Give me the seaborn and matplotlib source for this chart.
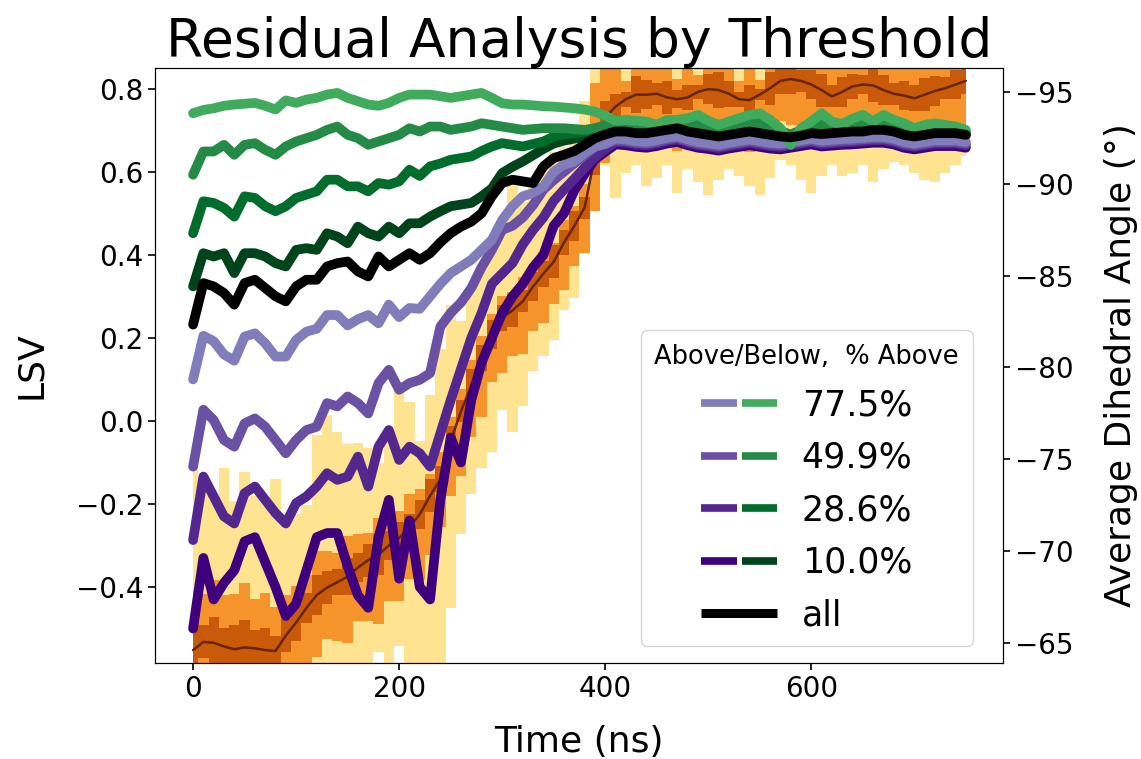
import matplotlib
matplotlib.use("Agg")
import matplotlib.pyplot as plt
import seaborn as sns
from matplotlib.lines import Line2D
from matplotlib.legend_handler import HandlerTuple

# ---------------- data ----------------
time_ns = list(range(0, 751, 10))

# LSV traces: "above" threshold (purple) and "below" threshold (green)
above_775 = [0.100, 0.205, 0.192, 0.160, 0.145, 0.203, 0.211, 0.187, 0.155, 0.155,
             0.195, 0.215, 0.222, 0.255, 0.255, 0.230, 0.245, 0.255, 0.235, 0.280,
             0.250, 0.272, 0.270, 0.300, 0.330, 0.356, 0.372, 0.388, 0.412, 0.436,
             0.484, 0.517, 0.541, 0.549, 0.565, 0.600, 0.617, 0.625, 0.645, 0.661,
             0.667, 0.680, 0.678, 0.674, 0.672, 0.676, 0.682, 0.686, 0.678, 0.672,
             0.669, 0.665, 0.670, 0.674, 0.678, 0.674, 0.670, 0.668, 0.672, 0.676,
             0.680, 0.675, 0.677, 0.679, 0.680, 0.682, 0.684, 0.684, 0.680, 0.672,
             0.668, 0.672, 0.676, 0.676, 0.676, 0.672]
above_499 = [-0.110, 0.027, 0.002, -0.046, -0.062, -0.006, 0.006, -0.014, -0.046, -0.078,
             -0.046, -0.022, -0.014, 0.043, 0.035, 0.059, 0.043, 0.018, 0.091, 0.123,
             0.075, 0.091, 0.099, 0.115, 0.227, 0.260, 0.285, 0.320, 0.370, 0.412,
             0.460, 0.470, 0.490, 0.520, 0.557, 0.580, 0.600, 0.620, 0.640, 0.660,
             0.668, 0.676, 0.674, 0.670, 0.668, 0.672, 0.678, 0.682, 0.674, 0.668,
             0.665, 0.661, 0.666, 0.670, 0.674, 0.670, 0.666, 0.664, 0.668, 0.672,
             0.676, 0.671, 0.673, 0.675, 0.676, 0.678, 0.680, 0.680, 0.676, 0.668,
             0.664, 0.668, 0.672, 0.672, 0.672, 0.668]
above_286 = [-0.287, -0.134, -0.182, -0.230, -0.247, -0.174, -0.158, -0.190, -0.222, -0.247,
             -0.198, -0.182, -0.158, -0.126, -0.142, -0.134, -0.086, -0.158, -0.062, -0.022,
             -0.094, -0.062, -0.078, -0.110, -0.030, 0.050, 0.125, 0.200, 0.260, 0.330,
             0.355, 0.380, 0.425, 0.460, 0.490, 0.530, 0.557, 0.583, 0.610, 0.635,
             0.655, 0.672, 0.670, 0.666, 0.664, 0.668, 0.674, 0.678, 0.670, 0.664,
             0.661, 0.657, 0.662, 0.666, 0.670, 0.666, 0.662, 0.660, 0.664, 0.668,
             0.672, 0.667, 0.669, 0.671, 0.672, 0.674, 0.676, 0.676, 0.672, 0.664,
             0.660, 0.664, 0.668, 0.668, 0.668, 0.664]
above_100 = [-0.500, -0.330, -0.430, -0.390, -0.360, -0.290, -0.280, -0.340, -0.400, -0.470,
             -0.440, -0.360, -0.280, -0.270, -0.270, -0.350, -0.420, -0.450, -0.280, -0.190,
             -0.380, -0.240, -0.400, -0.430, -0.190, -0.040, -0.100, 0.050, 0.140, 0.200,
             0.260, 0.300, 0.330, 0.370, 0.400, 0.470, 0.500, 0.555, 0.595, 0.630,
             0.648, 0.666, 0.664, 0.660, 0.658, 0.662, 0.668, 0.672, 0.664, 0.658,
             0.655, 0.651, 0.656, 0.660, 0.664, 0.660, 0.656, 0.654, 0.658, 0.662,
             0.666, 0.661, 0.663, 0.665, 0.666, 0.668, 0.670, 0.670, 0.666, 0.658,
             0.654, 0.658, 0.662, 0.662, 0.662, 0.658]

below_775 = [0.741, 0.749, 0.753, 0.759, 0.762, 0.764, 0.766, 0.759, 0.750, 0.772,
             0.766, 0.774, 0.778, 0.786, 0.790, 0.778, 0.770, 0.762, 0.759, 0.766,
             0.778, 0.786, 0.786, 0.786, 0.782, 0.778, 0.782, 0.786, 0.790, 0.778,
             0.765, 0.762, 0.762, 0.760, 0.758, 0.757, 0.755, 0.753, 0.750, 0.745,
             0.735, 0.723, 0.725, 0.723, 0.721, 0.713, 0.725, 0.725, 0.729, 0.737,
             0.723, 0.713, 0.721, 0.729, 0.737, 0.741, 0.725, 0.705, 0.665, 0.705,
             0.721, 0.741, 0.721, 0.715, 0.728, 0.737, 0.721, 0.737, 0.725, 0.717,
             0.705, 0.713, 0.717, 0.713, 0.709, 0.701]
below_499 = [0.593, 0.649, 0.649, 0.665, 0.641, 0.665, 0.669, 0.653, 0.641, 0.661,
             0.673, 0.681, 0.689, 0.701, 0.709, 0.689, 0.681, 0.665, 0.673, 0.681,
             0.689, 0.705, 0.697, 0.709, 0.709, 0.701, 0.705, 0.709, 0.717, 0.713,
             0.709, 0.705, 0.701, 0.703, 0.705, 0.705, 0.705, 0.703, 0.701, 0.705,
             0.712, 0.705, 0.708, 0.706, 0.703, 0.698, 0.707, 0.710, 0.712, 0.715,
             0.706, 0.700, 0.705, 0.710, 0.716, 0.718, 0.708, 0.698, 0.690, 0.700,
             0.708, 0.716, 0.706, 0.702, 0.709, 0.714, 0.706, 0.714, 0.708, 0.703,
             0.698, 0.702, 0.705, 0.702, 0.700, 0.697]
below_286 = [0.452, 0.529, 0.525, 0.513, 0.492, 0.541, 0.537, 0.517, 0.505, 0.517,
             0.537, 0.545, 0.553, 0.581, 0.581, 0.565, 0.565, 0.553, 0.573, 0.569,
             0.577, 0.605, 0.590, 0.613, 0.620, 0.629, 0.633, 0.637, 0.650, 0.661,
             0.669, 0.665, 0.661, 0.667, 0.673, 0.685, 0.690, 0.693, 0.697, 0.700,
             0.702, 0.698, 0.700, 0.699, 0.697, 0.693, 0.700, 0.703, 0.705, 0.707,
             0.700, 0.695, 0.699, 0.703, 0.708, 0.710, 0.702, 0.694, 0.688, 0.695,
             0.701, 0.707, 0.700, 0.697, 0.702, 0.706, 0.700, 0.706, 0.702, 0.698,
             0.694, 0.697, 0.699, 0.697, 0.695, 0.693]
below_100 = [0.324, 0.404, 0.396, 0.404, 0.356, 0.404, 0.404, 0.396, 0.380, 0.372,
             0.412, 0.416, 0.412, 0.452, 0.444, 0.428, 0.468, 0.452, 0.444, 0.468,
             0.452, 0.476, 0.476, 0.492, 0.505, 0.517, 0.521, 0.525, 0.541, 0.560,
             0.597, 0.612, 0.625, 0.640, 0.655, 0.668, 0.675, 0.680, 0.684, 0.688,
             0.694, 0.692, 0.694, 0.693, 0.691, 0.688, 0.694, 0.697, 0.699, 0.700,
             0.694, 0.690, 0.693, 0.697, 0.701, 0.703, 0.696, 0.689, 0.684, 0.690,
             0.695, 0.700, 0.694, 0.691, 0.696, 0.699, 0.694, 0.699, 0.696, 0.692,
             0.689, 0.691, 0.693, 0.691, 0.690, 0.688]

all_lsv = [0.232, 0.332, 0.324, 0.308, 0.280, 0.332, 0.340, 0.320, 0.300, 0.288,
           0.324, 0.340, 0.340, 0.372, 0.380, 0.384, 0.360, 0.348, 0.396, 0.372,
           0.388, 0.404, 0.388, 0.404, 0.430, 0.452, 0.468, 0.480, 0.500, 0.541,
           0.573, 0.581, 0.577, 0.573, 0.613, 0.633, 0.641, 0.650, 0.665, 0.681,
           0.690, 0.697, 0.697, 0.693, 0.693, 0.697, 0.701, 0.705, 0.697, 0.693,
           0.689, 0.685, 0.689, 0.693, 0.697, 0.693, 0.689, 0.685, 0.683, 0.687,
           0.693, 0.691, 0.693, 0.695, 0.697, 0.697, 0.701, 0.701, 0.697, 0.689,
           0.685, 0.689, 0.693, 0.693, 0.693, 0.689]

# dihedral angle distribution (right axis, degrees)
angle_median = [-64.6, -65.05, -65.0, -64.8, -64.65, -64.75, -64.7, -64.6, -64.55, -65.4,
                -66.1, -66.9, -67.6, -68.0, -68.3, -68.6, -69.1, -69.5, -69.8, -70.3,
                -70.7, -71.3, -72.0, -73.0, -73.9, -76.0, -77.6, -79.0, -80.5, -81.8,
                -82.7, -83.1, -83.6, -84.4, -85.1, -85.75, -86.8, -87.7, -88.7, -91.5,
                -93.6, -94.2, -94.6, -94.85, -94.85, -94.9, -94.7, -94.6, -94.7, -95.0,
                -95.15, -95.1, -94.9, -94.6, -94.55, -94.85, -95.2, -95.6, -95.7, -95.6,
                -95.4, -95.1, -94.75, -95.0, -95.3, -95.4, -95.35, -95.1, -94.9, -94.8,
                -94.65, -94.85, -95.05, -95.2, -95.4, -95.6]
outer_top = [-74.5, -73.4, -72.8, -74.5, -72.7, -74.3, -73.0, -72.6, -73.9, -71.8,
             -72.0, -72.5, -76.3, -77.4, -76.5, -75.8, -75.9, -75.6, -74.8, -76.5,
             -79.0, -78.1, -76.0, -78.5, -81.0, -83.4, -82.5, -84.0, -85.5, -86.8,
             -88.0, -89.9, -89.0, -90.0, -91.0, -91.7, -92.0, -93.0, -94.5, -99.0,
             -99.0, -99.0, -99.0, -99.0, -99.0, -99.0, -99.0, -99.0, -99.0, -99.0,
             -99.0, -99.0, -99.0, -99.0, -99.0, -99.0, -99.0, -99.0, -99.0, -99.0,
             -99.0, -99.0, -99.0, -99.0, -99.0, -99.0, -99.0, -99.0, -99.0, -99.0,
             -99.0, -99.0, -99.0, -99.0, -99.0, -99.0]
outer_bottom = [-62.0, -62.0, -62.0, -62.0, -62.0, -62.0, -62.0, -62.0, -62.0, -62.0,
                -62.0, -62.0, -62.0, -62.0, -62.0, -62.0, -62.0, -62.0, -64.5, -62.0,
                -64.8, -62.0, -62.0, -62.0, -62.0, -66.9, -70.9, -73.1, -74.5, -75.4,
                -77.7, -76.5, -77.9, -79.8, -80.6, -81.5, -83.1, -83.8, -87.4, -89.5,
                -91.0, -89.2, -90.6, -91.0, -89.9, -90.3, -91.0, -89.5, -90.8, -90.1,
                -89.4, -90.2, -90.8, -90.4, -89.9, -89.4, -90.3, -91.3, -91.0, -90.2,
                -89.5, -90.4, -91.0, -90.4, -90.6, -91.0, -90.1, -90.8, -91.2, -91.0,
                -90.6, -90.2, -90.1, -90.6, -91.0, -91.5]
mid_up = [3.2, 2.6, 3.4, 2.8, 3.0, 3.5, 2.7, 3.1, 2.4, 2.2,
          2.0, 1.8, 2.4, 2.0, 1.6, 2.2, 1.8, 1.5, 2.0, 1.7,
          1.5, 1.8, 1.4, 1.2, 1.5, 1.3, 1.2, 1.4, 1.2, 1.1,
          1.2, 1.0, 1.3, 1.1, 1.2, 1.0, 1.2, 1.1, 1.3, 4.0,
          4.0, 4.0, 1.0, 4.0, 4.0, 4.0, 4.0, 1.1, 4.0, 0.9,
          4.0, 4.0, 4.0, 1.0, 4.0, 0.8, 4.0, 4.0, 4.0, 4.0,
          4.0, 4.0, 4.0, 4.0, 4.0, 1.0, 4.0, 4.0, 4.0, 4.0,
          4.0, 4.0, 4.0, 4.0, 4.0, 4.0]
mid_down = [2.0, 2.5, 2.2, 2.4, 2.0, 2.6, 2.2, 2.0, 2.4, 2.8,
            2.6, 3.0, 3.4, 2.8, 3.2, 3.6, 2.9, 3.3, 3.8, 3.0,
            3.4, 2.8, 3.6, 3.2, 2.6, 3.0, 3.5, 2.8, 3.2, 2.6,
            3.0, 2.5, 2.9, 2.4, 2.7, 2.3, 2.6, 2.2, 2.5, 3.0,
            2.5, 2.3, 2.7, 2.4, 2.6, 2.2, 2.5, 2.8, 2.3, 2.6,
            2.4, 2.7, 2.3, 2.5, 2.8, 2.4, 2.6, 2.2, 2.5, 2.7,
            2.3, 2.6, 2.4, 2.8, 2.5, 2.3, 2.6, 2.4, 2.7, 2.5,
            2.3, 2.6, 2.4, 2.5, 2.7, 2.4]
inner_half = [1.2, 0.9, 1.4, 1.0, 1.3, 1.5, 1.0, 1.2, 0.8, 0.9,
              1.0, 0.8, 1.1, 0.9, 0.7, 1.0, 0.8, 0.9, 1.1, 0.8,
              0.9, 0.7, 0.8, 0.9, 0.7, 0.8, 0.6, 0.9, 0.7, 0.8,
              0.7, 0.9, 0.6, 0.8, 0.7, 0.9, 0.7, 0.8, 0.6, 1.0,
              0.9, 0.7, 0.4, 1.0, 0.8, 0.6, 0.9, 0.5, 0.7, 0.4,
              0.8, 1.0, 0.7, 0.4, 0.8, 0.3, 0.9, 0.7, 0.8, 0.6,
              0.8, 0.9, 0.6, 0.8, 0.7, 0.5, 0.9, 0.8, 0.6, 0.8,
              0.7, 0.9, 0.8, 0.6, 0.8, 0.7]

legend_labels = ["77.5%", "49.9%", "28.6%", "10.0%", "all"]
purples = ["#807dba", "#6a51a3", "#54278f", "#3f007d"]
greens = ["#41ab5d", "#238b45", "#006d2c", "#00441b"]

# ---------------- style ----------------
sns.set_style("ticks", rc={
    "axes.edgecolor": "black", "axes.labelcolor": "black", "text.color": "black",
    "xtick.color": "black", "ytick.color": "black", "axes.linewidth": 1.4,
    "xtick.direction": "out", "ytick.direction": "out",
})
plt.rcParams["font.family"] = ["DejaVu Sans"]

fig = plt.figure(figsize=(11.41, 7.59), dpi=100)
ax = fig.add_axes([0.1358, 0.1265, 0.879 - 0.1358, 0.9104 - 0.1265])
ax2 = ax.twinx()

# ---------------- dihedral fan (right axis) ----------------
mid_top = [m - u for m, u in zip(angle_median, mid_up)]
mid_bot = [m + d for m, d in zip(angle_median, mid_down)]
in_top = [m - h for m, h in zip(angle_median, inner_half)]
in_bot = [m + h for m, h in zip(angle_median, inner_half)]
ax2.fill_between(time_ns, outer_bottom, outer_top, step="mid", color="#fee391", lw=0)
ax2.fill_between(time_ns, mid_bot, mid_top, step="mid", color="#f5942a", lw=0)
ax2.fill_between(time_ns, in_bot, in_top, step="mid", color="#c95a0a", lw=0)
sns.lineplot(x=time_ns, y=angle_median, color="#662506", linewidth=1.8, ax=ax2)
ax2.set_ylim(-63.9, -96.3)
ax2.set_yticks([-95, -90, -85, -80, -75, -70, -65])
ax2.set_ylabel("Average Dihedral Angle (°)", fontsize=26, labelpad=22)

# ---------------- LSV lines (left axis) ----------------
ax.set_zorder(ax2.get_zorder() + 1)
ax.patch.set_visible(False)
above = [above_100, above_286, above_499, above_775]
below = [below_100, below_286, below_499, below_775]
for i in range(4):
    sns.lineplot(x=time_ns, y=above[i], color=purples[3 - i], linewidth=7, ax=ax)
    sns.lineplot(x=time_ns, y=below[i], color=greens[3 - i], linewidth=7, ax=ax)
sns.lineplot(x=time_ns, y=all_lsv, color="black", linewidth=7, ax=ax)

ax.set_xlim(-37, 786)
ax.set_ylim(-0.583, 0.85)
ax.set_xticks([0, 200, 400, 600])
ax.set_yticks([-0.4, -0.2, 0.0, 0.2, 0.4, 0.6, 0.8])
ax.set_xlabel("Time (ns)", fontsize=26, labelpad=16)
ax.set_ylabel("LSV", fontsize=26, labelpad=20)
ax.set_title("Residual Analysis by Threshold", fontsize=38.5)
for a in (ax, ax2):
    a.tick_params(labelsize=20, length=5, width=1.2)

handles = [(Line2D([], [], color=purples[i], lw=5.5, solid_capstyle="butt"),
            Line2D([], [], color=greens[i], lw=5.5, solid_capstyle="butt"))
           for i in range(4)]
handles.append(Line2D([], [], color="black", lw=6.5, solid_capstyle="butt"))
ax.legend(handles, legend_labels, handler_map={tuple: HandlerTuple(ndivide=None, pad=0.15)},
          title="Above/Below,  % Above", loc="lower right", bbox_to_anchor=(0.9646, 0.0286),
          borderaxespad=0, fontsize=25, title_fontsize=18.5,
          handlelength=2.2, handletextpad=0.7, labelspacing=0.53,
          frameon=True, framealpha=0.8, edgecolor="0.8", fancybox=True)

fig.savefig("out.png", dpi=100)
